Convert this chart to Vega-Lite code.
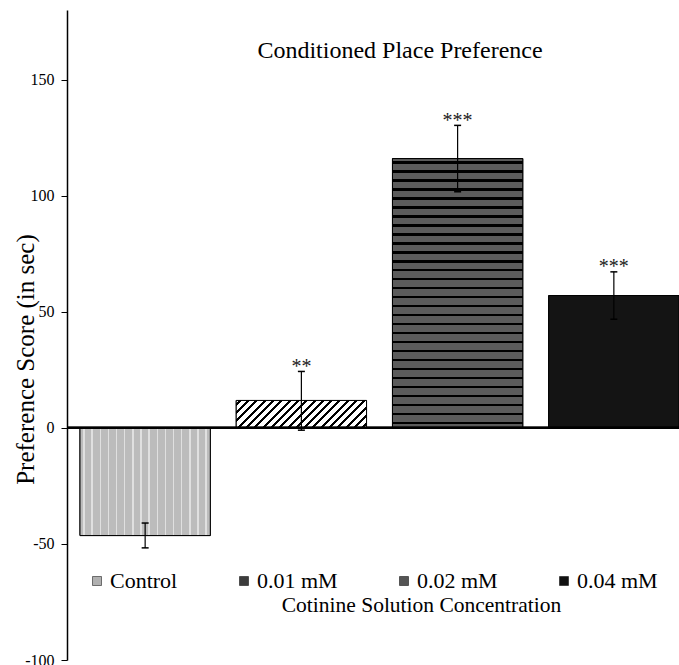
{
  "$schema": "https://vega.github.io/schema/vega-lite/v6.json",
  "width": 612,
  "height": 650,
  "autosize": {"type": "none"},
  "padding": {"left": 67, "top": 10, "right": 0, "bottom": 5},
  "background": "white",
  "config": {
    "view": {"stroke": null},
    "font": "Liberation Serif",
    "axis": {"grid": false, "labelFont": "Liberation Serif", "titleFont": "Liberation Serif", "labelColor": "black", "titleColor": "black", "titleFontWeight": "normal"},
    "axisY": {"domainColor": "black", "domainWidth": 1.5, "tickColor": "black", "tickSize": 6, "tickWidth": 1, "labelPadding": 7, "labelFont": "Liberation Serif", "labelFontSize": 16, "labelColor": "black", "titleFont": "Liberation Serif", "titleFontSize": 25, "titleFontWeight": "normal", "titleColor": "black"},
    "axisX": {"titleFont": "Liberation Serif", "titleFontSize": 21.5, "titleFontWeight": "normal", "titleColor": "black"}
  },
  "title": {"text": "Conditioned Place Preference", "font": "Liberation Serif", "fontSize": 24, "fontWeight": "normal", "color": "black", "anchor": "middle", "frame": "group", "baseline": "alphabetic", "offset": 0, "dx": 27, "dy": 72},
  "data": {"values": [
    {"group": "Control", "mean": -46.4, "lo": -51.7, "hi": -41.0, "sig": ""},
    {"group": "0.01 mM", "mean": 11.8, "lo": -1.0, "hi": 24.3, "sig": "**"},
    {"group": "0.02 mM", "mean": 116.0, "lo": 101.7, "hi": 130.3, "sig": "***"},
    {"group": "0.04 mM", "mean": 57.0, "lo": 46.8, "hi": 67.2, "sig": "***"}
  ]},
  "resolve": {"scale": {"x": "shared", "y": "shared"}, "axis": {"x": "independent", "y": "independent"}},
  "layer": [
    {
      "mark": {"type": "bar", "stroke": "black", "strokeWidth": 1},
      "encoding": {
        "x": {"field": "group", "type": "nominal", "sort": ["Control", "0.01 mM", "0.02 mM", "0.04 mM"],
          "scale": {"paddingInner": 0.166, "paddingOuter": 0.0416, "align": 1},
          "axis": {"title": "Cotinine Solution Concentration", "domain": false, "ticks": false, "labels": false, "titleX": 354, "titleY": -49, "titleBaseline": "alphabetic", "titleAlign": "center", "titleFont": "Liberation Serif", "titleFontSize": 21.5, "titleFontWeight": "normal", "titleColor": "black"}},
        "y": {"field": "mean", "type": "quantitative", "title": "Preference Score (in sec)",
          "scale": {"domain": [-100, 180], "nice": false, "zero": false},
          "axis": {"values": [-100, -50, 0, 50, 100, 150], "labelExpr": "datum.value + ''", "labelFont": "Liberation Serif", "labelFontSize": 16, "titleFont": "Liberation Serif", "titleFontSize": 25, "titleX": -42, "titleY": 349, "titleAngle": -90, "titleAlign": "center", "titleBaseline": "middle"}},
        "y2": {"datum": 0},
        "color": {"field": "group", "type": "nominal", "sort": ["Control", "0.01 mM", "0.02 mM", "0.04 mM"],
          "scale": {"domain": ["Control", "0.01 mM", "0.02 mM", "0.04 mM"], "range": ["#b0b0b0", "#3c3c3c", "#555555", "#111111"]},
          "legend": {"orient": "none", "legendX": 19, "legendY": 560, "direction": "horizontal", "columns": 4, "title": null, "symbolType": "square", "symbolSize": 81, "symbolStrokeColor": "black", "symbolStrokeWidth": 0.5, "symbolOpacity": 1, "labelFont": "Liberation Serif", "labelFontSize": 22, "labelColor": "black", "labelOffset": 2, "columnPadding": 55, "padding": 0, "labelLimit": 300}}
      }
    },
    {
      "mark": {"type": "bar", "stroke": "black", "strokeWidth": 1},
      "encoding": {
        "x": {"field": "group", "type": "nominal", "sort": ["Control", "0.01 mM", "0.02 mM", "0.04 mM"], "axis": null},
        "y": {"field": "mean", "type": "quantitative", "axis": null},
        "y2": {"datum": 0},
        "fill": {
          "condition": [
            {"test": "datum.group === 'Control'", "value": {"gradient": "linear", "x1": 0, "y1": 0, "x2": 1, "y2": 0, "stops": [
              {"offset": 0, "color": "#bcbcbc"},
              {"offset": 0.025, "color": "#bcbcbc"}, {"offset": 0.025, "color": "#e0e0e0"}, {"offset": 0.0365, "color": "#e0e0e0"}, {"offset": 0.0365, "color": "#bcbcbc"},
              {"offset": 0.0875, "color": "#bcbcbc"}, {"offset": 0.0875, "color": "#e0e0e0"}, {"offset": 0.099, "color": "#e0e0e0"}, {"offset": 0.099, "color": "#bcbcbc"},
              {"offset": 0.15, "color": "#bcbcbc"}, {"offset": 0.15, "color": "#e0e0e0"}, {"offset": 0.1615, "color": "#e0e0e0"}, {"offset": 0.1615, "color": "#bcbcbc"},
              {"offset": 0.2125, "color": "#bcbcbc"}, {"offset": 0.2125, "color": "#e0e0e0"}, {"offset": 0.224, "color": "#e0e0e0"}, {"offset": 0.224, "color": "#bcbcbc"},
              {"offset": 0.275, "color": "#bcbcbc"}, {"offset": 0.275, "color": "#e0e0e0"}, {"offset": 0.2865, "color": "#e0e0e0"}, {"offset": 0.2865, "color": "#bcbcbc"},
              {"offset": 0.3375, "color": "#bcbcbc"}, {"offset": 0.3375, "color": "#e0e0e0"}, {"offset": 0.349, "color": "#e0e0e0"}, {"offset": 0.349, "color": "#bcbcbc"},
              {"offset": 0.4, "color": "#bcbcbc"}, {"offset": 0.4, "color": "#e0e0e0"}, {"offset": 0.4115, "color": "#e0e0e0"}, {"offset": 0.4115, "color": "#bcbcbc"},
              {"offset": 0.4625, "color": "#bcbcbc"}, {"offset": 0.4625, "color": "#e0e0e0"}, {"offset": 0.474, "color": "#e0e0e0"}, {"offset": 0.474, "color": "#bcbcbc"},
              {"offset": 0.525, "color": "#bcbcbc"}, {"offset": 0.525, "color": "#e0e0e0"}, {"offset": 0.5365, "color": "#e0e0e0"}, {"offset": 0.5365, "color": "#bcbcbc"},
              {"offset": 0.5875, "color": "#bcbcbc"}, {"offset": 0.5875, "color": "#e0e0e0"}, {"offset": 0.599, "color": "#e0e0e0"}, {"offset": 0.599, "color": "#bcbcbc"},
              {"offset": 0.65, "color": "#bcbcbc"}, {"offset": 0.65, "color": "#e0e0e0"}, {"offset": 0.6615, "color": "#e0e0e0"}, {"offset": 0.6615, "color": "#bcbcbc"},
              {"offset": 0.7125, "color": "#bcbcbc"}, {"offset": 0.7125, "color": "#e0e0e0"}, {"offset": 0.724, "color": "#e0e0e0"}, {"offset": 0.724, "color": "#bcbcbc"},
              {"offset": 0.775, "color": "#bcbcbc"}, {"offset": 0.775, "color": "#e0e0e0"}, {"offset": 0.7865, "color": "#e0e0e0"}, {"offset": 0.7865, "color": "#bcbcbc"},
              {"offset": 0.8375, "color": "#bcbcbc"}, {"offset": 0.8375, "color": "#e0e0e0"}, {"offset": 0.849, "color": "#e0e0e0"}, {"offset": 0.849, "color": "#bcbcbc"},
              {"offset": 0.9, "color": "#bcbcbc"}, {"offset": 0.9, "color": "#e0e0e0"}, {"offset": 0.9115, "color": "#e0e0e0"}, {"offset": 0.9115, "color": "#bcbcbc"},
              {"offset": 0.9625, "color": "#bcbcbc"}, {"offset": 0.9625, "color": "#e0e0e0"}, {"offset": 0.974, "color": "#e0e0e0"}, {"offset": 0.974, "color": "#bcbcbc"},
              {"offset": 1, "color": "#bcbcbc"}
            ]}},
            {"test": "datum.group === '0.01 mM'", "value": {"gradient": "linear", "x1": 0, "y1": 0, "x2": 1.159, "y2": 0.2437, "stops": [
              {"offset": 0, "color": "white"},
              {"offset": 0.017, "color": "white"}, {"offset": 0.017, "color": "black"}, {"offset": 0.036, "color": "black"}, {"offset": 0.036, "color": "white"},
              {"offset": 0.0696, "color": "white"}, {"offset": 0.0696, "color": "black"}, {"offset": 0.0886, "color": "black"}, {"offset": 0.0886, "color": "white"},
              {"offset": 0.1223, "color": "white"}, {"offset": 0.1223, "color": "black"}, {"offset": 0.1413, "color": "black"}, {"offset": 0.1413, "color": "white"},
              {"offset": 0.1749, "color": "white"}, {"offset": 0.1749, "color": "black"}, {"offset": 0.1939, "color": "black"}, {"offset": 0.1939, "color": "white"},
              {"offset": 0.2275, "color": "white"}, {"offset": 0.2275, "color": "black"}, {"offset": 0.2465, "color": "black"}, {"offset": 0.2465, "color": "white"},
              {"offset": 0.2802, "color": "white"}, {"offset": 0.2802, "color": "black"}, {"offset": 0.2992, "color": "black"}, {"offset": 0.2992, "color": "white"},
              {"offset": 0.3328, "color": "white"}, {"offset": 0.3328, "color": "black"}, {"offset": 0.3518, "color": "black"}, {"offset": 0.3518, "color": "white"},
              {"offset": 0.3854, "color": "white"}, {"offset": 0.3854, "color": "black"}, {"offset": 0.4044, "color": "black"}, {"offset": 0.4044, "color": "white"},
              {"offset": 0.438, "color": "white"}, {"offset": 0.438, "color": "black"}, {"offset": 0.457, "color": "black"}, {"offset": 0.457, "color": "white"},
              {"offset": 0.4907, "color": "white"}, {"offset": 0.4907, "color": "black"}, {"offset": 0.5097, "color": "black"}, {"offset": 0.5097, "color": "white"},
              {"offset": 0.5433, "color": "white"}, {"offset": 0.5433, "color": "black"}, {"offset": 0.5623, "color": "black"}, {"offset": 0.5623, "color": "white"},
              {"offset": 0.5959, "color": "white"}, {"offset": 0.5959, "color": "black"}, {"offset": 0.6149, "color": "black"}, {"offset": 0.6149, "color": "white"},
              {"offset": 0.6486, "color": "white"}, {"offset": 0.6486, "color": "black"}, {"offset": 0.6676, "color": "black"}, {"offset": 0.6676, "color": "white"},
              {"offset": 0.7012, "color": "white"}, {"offset": 0.7012, "color": "black"}, {"offset": 0.7202, "color": "black"}, {"offset": 0.7202, "color": "white"},
              {"offset": 0.7538, "color": "white"}, {"offset": 0.7538, "color": "black"}, {"offset": 0.7728, "color": "black"}, {"offset": 0.7728, "color": "white"},
              {"offset": 0.8064, "color": "white"}, {"offset": 0.8064, "color": "black"}, {"offset": 0.8254, "color": "black"}, {"offset": 0.8254, "color": "white"},
              {"offset": 0.8591, "color": "white"}, {"offset": 0.8591, "color": "black"}, {"offset": 0.8781, "color": "black"}, {"offset": 0.8781, "color": "white"},
              {"offset": 0.9117, "color": "white"}, {"offset": 0.9117, "color": "black"}, {"offset": 0.9307, "color": "black"}, {"offset": 0.9307, "color": "white"},
              {"offset": 0.9643, "color": "white"}, {"offset": 0.9643, "color": "black"}, {"offset": 0.9833, "color": "black"}, {"offset": 0.9833, "color": "white"},
              {"offset": 1, "color": "white"}
            ]}},
            {"test": "datum.group === '0.02 mM'", "value": {"gradient": "linear", "x1": 0, "y1": 0, "x2": 0, "y2": 1, "stops": [
              {"offset": 0, "color": "#5c5c5c"},
              {"offset": 0.01, "color": "#5c5c5c"}, {"offset": 0.01, "color": "black"}, {"offset": 0.0193, "color": "black"}, {"offset": 0.0193, "color": "#5c5c5c"},
              {"offset": 0.0433, "color": "#5c5c5c"}, {"offset": 0.0433, "color": "black"}, {"offset": 0.0526, "color": "black"}, {"offset": 0.0526, "color": "#5c5c5c"},
              {"offset": 0.0767, "color": "#5c5c5c"}, {"offset": 0.0767, "color": "black"}, {"offset": 0.086, "color": "black"}, {"offset": 0.086, "color": "#5c5c5c"},
              {"offset": 0.11, "color": "#5c5c5c"}, {"offset": 0.11, "color": "black"}, {"offset": 0.1193, "color": "black"}, {"offset": 0.1193, "color": "#5c5c5c"},
              {"offset": 0.1433, "color": "#5c5c5c"}, {"offset": 0.1433, "color": "black"}, {"offset": 0.1526, "color": "black"}, {"offset": 0.1526, "color": "#5c5c5c"},
              {"offset": 0.1767, "color": "#5c5c5c"}, {"offset": 0.1767, "color": "black"}, {"offset": 0.186, "color": "black"}, {"offset": 0.186, "color": "#5c5c5c"},
              {"offset": 0.21, "color": "#5c5c5c"}, {"offset": 0.21, "color": "black"}, {"offset": 0.2193, "color": "black"}, {"offset": 0.2193, "color": "#5c5c5c"},
              {"offset": 0.2433, "color": "#5c5c5c"}, {"offset": 0.2433, "color": "black"}, {"offset": 0.2526, "color": "black"}, {"offset": 0.2526, "color": "#5c5c5c"},
              {"offset": 0.2767, "color": "#5c5c5c"}, {"offset": 0.2767, "color": "black"}, {"offset": 0.286, "color": "black"}, {"offset": 0.286, "color": "#5c5c5c"},
              {"offset": 0.31, "color": "#5c5c5c"}, {"offset": 0.31, "color": "black"}, {"offset": 0.3193, "color": "black"}, {"offset": 0.3193, "color": "#5c5c5c"},
              {"offset": 0.3433, "color": "#5c5c5c"}, {"offset": 0.3433, "color": "black"}, {"offset": 0.3526, "color": "black"}, {"offset": 0.3526, "color": "#5c5c5c"},
              {"offset": 0.3767, "color": "#5c5c5c"}, {"offset": 0.3767, "color": "black"}, {"offset": 0.386, "color": "black"}, {"offset": 0.386, "color": "#5c5c5c"},
              {"offset": 0.41, "color": "#5c5c5c"}, {"offset": 0.41, "color": "black"}, {"offset": 0.4193, "color": "black"}, {"offset": 0.4193, "color": "#5c5c5c"},
              {"offset": 0.4433, "color": "#5c5c5c"}, {"offset": 0.4433, "color": "black"}, {"offset": 0.4526, "color": "black"}, {"offset": 0.4526, "color": "#5c5c5c"},
              {"offset": 0.4767, "color": "#5c5c5c"}, {"offset": 0.4767, "color": "black"}, {"offset": 0.486, "color": "black"}, {"offset": 0.486, "color": "#5c5c5c"},
              {"offset": 0.51, "color": "#5c5c5c"}, {"offset": 0.51, "color": "black"}, {"offset": 0.5193, "color": "black"}, {"offset": 0.5193, "color": "#5c5c5c"},
              {"offset": 0.5433, "color": "#5c5c5c"}, {"offset": 0.5433, "color": "black"}, {"offset": 0.5526, "color": "black"}, {"offset": 0.5526, "color": "#5c5c5c"},
              {"offset": 0.5767, "color": "#5c5c5c"}, {"offset": 0.5767, "color": "black"}, {"offset": 0.586, "color": "black"}, {"offset": 0.586, "color": "#5c5c5c"},
              {"offset": 0.61, "color": "#5c5c5c"}, {"offset": 0.61, "color": "black"}, {"offset": 0.6193, "color": "black"}, {"offset": 0.6193, "color": "#5c5c5c"},
              {"offset": 0.6433, "color": "#5c5c5c"}, {"offset": 0.6433, "color": "black"}, {"offset": 0.6526, "color": "black"}, {"offset": 0.6526, "color": "#5c5c5c"},
              {"offset": 0.6767, "color": "#5c5c5c"}, {"offset": 0.6767, "color": "black"}, {"offset": 0.686, "color": "black"}, {"offset": 0.686, "color": "#5c5c5c"},
              {"offset": 0.71, "color": "#5c5c5c"}, {"offset": 0.71, "color": "black"}, {"offset": 0.7193, "color": "black"}, {"offset": 0.7193, "color": "#5c5c5c"},
              {"offset": 0.7433, "color": "#5c5c5c"}, {"offset": 0.7433, "color": "black"}, {"offset": 0.7526, "color": "black"}, {"offset": 0.7526, "color": "#5c5c5c"},
              {"offset": 0.7767, "color": "#5c5c5c"}, {"offset": 0.7767, "color": "black"}, {"offset": 0.786, "color": "black"}, {"offset": 0.786, "color": "#5c5c5c"},
              {"offset": 0.81, "color": "#5c5c5c"}, {"offset": 0.81, "color": "black"}, {"offset": 0.8193, "color": "black"}, {"offset": 0.8193, "color": "#5c5c5c"},
              {"offset": 0.8433, "color": "#5c5c5c"}, {"offset": 0.8433, "color": "black"}, {"offset": 0.8526, "color": "black"}, {"offset": 0.8526, "color": "#5c5c5c"},
              {"offset": 0.8767, "color": "#5c5c5c"}, {"offset": 0.8767, "color": "black"}, {"offset": 0.886, "color": "black"}, {"offset": 0.886, "color": "#5c5c5c"},
              {"offset": 0.91, "color": "#5c5c5c"}, {"offset": 0.91, "color": "black"}, {"offset": 0.9193, "color": "black"}, {"offset": 0.9193, "color": "#5c5c5c"},
              {"offset": 0.9433, "color": "#5c5c5c"}, {"offset": 0.9433, "color": "black"}, {"offset": 0.9526, "color": "black"}, {"offset": 0.9526, "color": "#5c5c5c"},
              {"offset": 0.9767, "color": "#5c5c5c"}, {"offset": 0.9767, "color": "black"}, {"offset": 0.986, "color": "black"}, {"offset": 0.986, "color": "#5c5c5c"},
              {"offset": 1, "color": "#5c5c5c"}
            ]}}
          ],
          "value": "#141414"
        }
      }
    },
    {
      "mark": {"type": "rule", "color": "black", "strokeWidth": 2},
      "encoding": {"y": {"datum": 0, "axis": null}}
    },
    {
      "mark": {"type": "rule", "color": "black", "strokeWidth": 1.2},
      "encoding": {
        "x": {"field": "group", "type": "nominal", "sort": ["Control", "0.01 mM", "0.02 mM", "0.04 mM"], "axis": null},
        "y": {"field": "lo", "type": "quantitative", "axis": null},
        "y2": {"field": "hi"}
      }
    },
    {
      "mark": {"type": "tick", "color": "black", "size": 7, "thickness": 1.5, "opacity": 1},
      "encoding": {
        "x": {"field": "group", "type": "nominal", "sort": ["Control", "0.01 mM", "0.02 mM", "0.04 mM"], "axis": null},
        "y": {"field": "lo", "type": "quantitative", "axis": null}
      }
    },
    {
      "mark": {"type": "tick", "color": "black", "size": 7, "thickness": 1.5, "opacity": 1},
      "encoding": {
        "x": {"field": "group", "type": "nominal", "sort": ["Control", "0.01 mM", "0.02 mM", "0.04 mM"], "axis": null},
        "y": {"field": "hi", "type": "quantitative", "axis": null}
      }
    },
    {
      "mark": {"type": "text", "font": "Liberation Serif", "fontSize": 20, "baseline": "alphabetic", "dy": 1.5, "color": "#222222"},
      "encoding": {
        "x": {"field": "group", "type": "nominal", "sort": ["Control", "0.01 mM", "0.02 mM", "0.04 mM"], "axis": null},
        "y": {"field": "hi", "type": "quantitative", "axis": null},
        "text": {"field": "sig"}
      }
    }
  ]
}
